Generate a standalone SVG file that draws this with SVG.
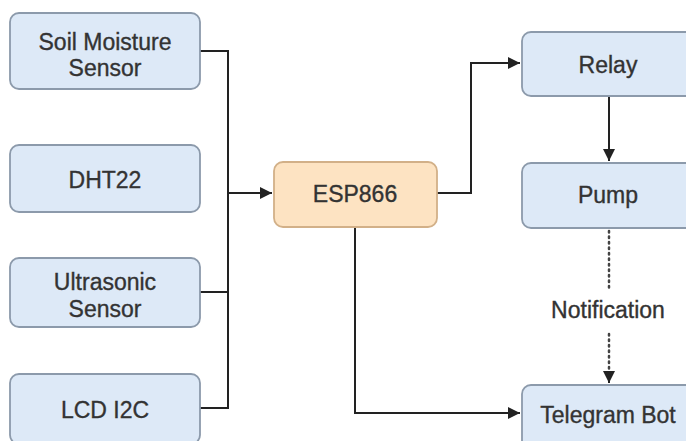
<svg xmlns="http://www.w3.org/2000/svg" width="686" height="441" viewBox="0 0 686 441">
<style>
.box{fill:#dde9f7;stroke:#8c9aab;stroke-width:1.8}
.esp{fill:#fde3c2;stroke:#d2b088;stroke-width:1.8}
.t{font-family:"Liberation Sans",Arial,sans-serif;font-size:23px;fill:#333;stroke:#333;stroke-width:0.35;text-anchor:middle}
.ln{fill:none;stroke:#222;stroke-width:2}
.dot{fill:none;stroke:#444;stroke-width:2.5;stroke-dasharray:1.5 4;stroke-linecap:round}
</style>
<defs>
<marker id="ah2" viewBox="0 0 10 10" refX="10" refY="5" markerWidth="12" markerHeight="12" orient="auto" markerUnits="userSpaceOnUse">
<path d="M0,0 L10,5 L0,10 z" fill="#222"/>
</marker>
</defs>
<rect width="686" height="441" fill="#fff"/>
<g id="connectors">
<path class="ln" d="M200,51 H228 V408 H200"/>
<path class="ln" d="M200,292 H228"/>
<path class="ln" d="M228,193 H272" marker-end="url(#ah2)"/>
<path class="ln" d="M437,193 H471 V63 H520" marker-end="url(#ah2)"/>
<path class="ln" d="M609,96 V161" marker-end="url(#ah2)"/>
<path class="ln" d="M355,227 V413 H520" marker-end="url(#ah2)"/>
<path class="dot" d="M609,231 V288"/>
<path class="dot" d="M609,334 V378"/>
<path class="ln" d="M609,376 V383" marker-end="url(#ah2)"/>
</g>
<g id="soil"><rect class="box" x="10" y="13" width="190" height="76" rx="9"/><text class="t" x="105" y="50">Soil Moisture</text><text class="t" x="105" y="76">Sensor</text></g>
<g id="dht22"><rect class="box" x="10" y="145" width="190" height="67" rx="9"/><text class="t" x="105" y="188">DHT22</text></g>
<g id="ultrasonic"><rect class="box" x="10" y="258" width="190" height="69" rx="9"/><text class="t" x="105" y="290">Ultrasonic</text><text class="t" x="105" y="317">Sensor</text></g>
<g id="lcd"><rect class="box" x="10" y="374" width="190" height="70" rx="9"/><text class="t" x="105" y="418">LCD I2C</text></g>
<g id="esp"><rect class="esp" x="274" y="162" width="163" height="65" rx="9"/><text class="t" x="355" y="202">ESP866</text></g>
<g id="relay"><rect class="box" x="522" y="32" width="175" height="64" rx="9"/><text class="t" x="608" y="73">Relay</text></g>
<g id="pump"><rect class="box" x="522" y="163" width="175" height="65" rx="9"/><text class="t" x="608" y="203">Pump</text></g>
<g id="telegram"><rect class="box" x="522" y="385" width="175" height="65" rx="9"/><text class="t" x="608" y="423">Telegram Bot</text></g>
<g id="label"><text class="t" x="608" y="318">Notification</text></g>
</svg>
